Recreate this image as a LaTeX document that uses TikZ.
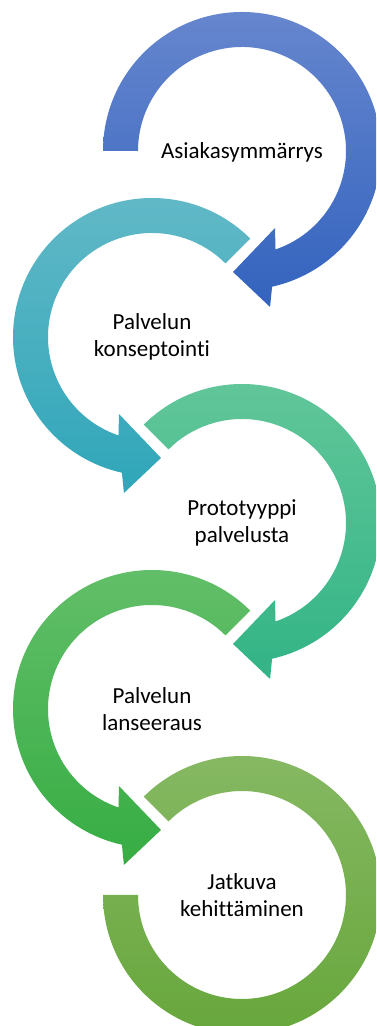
\documentclass[tikz,border=0pt]{standalone}
\usepackage{fontspec}
\setmainfont[Ligatures=NoCommon]{Carlito}
\definecolor{blueT}{HTML}{6686CE}
\definecolor{blueB}{HTML}{3363BE}
\definecolor{tealT}{HTML}{63B9C7}
\definecolor{tealB}{HTML}{2FA6B9}
\definecolor{mintT}{HTML}{63C79A}
\definecolor{mintB}{HTML}{32B486}
\definecolor{grnT}{HTML}{64BF6A}
\definecolor{grnB}{HTML}{36AD43}
\definecolor{oliveT}{HTML}{87B964}
\definecolor{oliveB}{HTML}{66A63A}
% ring on the right: starts at angle #3, runs clockwise, arrowhead points left at the bottom
\newcommand\ringRight[5]{%
  \begin{scope}[shift={(#1,#2)}]
    \shade[top color=#4,bottom color=#5]
      (#3:139) arc[start angle=#3,end angle=-77.5,radius=139]
      -- (-79.8:158.5) -- (-94.25:121.3) -- (-66.8:83.8) -- (-71.2:104)
      arc[start angle=-71.2,end angle=#3,radius=104] -- cycle;
  \end{scope}}
% ring on the left: starts at angle #3, runs counter-clockwise, arrowhead points right at the bottom
\newcommand\ringLeft[5]{%
  \begin{scope}[shift={(#1,#2)}]
    \shade[top color=#4,bottom color=#5]
      (#3:139) arc[start angle=#3,end angle=257.5,radius=139]
      -- (259.8:158.5) -- (274.25:121.3) -- (246.8:83.8) -- (251.2:104)
      arc[start angle=251.2,end angle=#3,radius=104] -- cycle;
  \end{scope}}
\begin{document}
\begin{tikzpicture}[x=1pt,y=1pt,
  lbl/.style={font=\fontsize{23}{27}\selectfont,align=center,text=black,inner sep=0pt}]
  \clip (0,0) rectangle (376,1026);
  \fill[white] (0,0) rectangle (376,1026);
  % five linked rings, top to bottom
  \ringRight{242}{875}{180}{blueT}{blueB}
  \ringLeft{152}{689}{45}{tealT}{tealB}
  \ringRight{242}{503}{135}{mintT}{mintB}
  \ringLeft{152}{317}{45}{grnT}{grnB}
  % last ring closes without an arrowhead
  \begin{scope}[shift={(242,131)}]
    \shade[top color=oliveT,bottom color=oliveB]
      (135:139) arc[start angle=135,end angle=-180,radius=139]
      -- (180:104) arc[start angle=-180,end angle=135,radius=104] -- cycle;
  \end{scope}
  % labels
  \node[lbl] (s1) at (242,874) {Asiakasymmärrys};
  \node[lbl] (s2) at (152,689) {Palvelun\\konseptointi};
  \node[lbl] (s3) at (242,503) {Prototyyppi\\palvelusta};
  \node[lbl] (s4) at (152,317) {Palvelun\\lanseeraus};
  \node[lbl] (s5) at (242,131) {Jatkuva\\kehittäminen};
\end{tikzpicture}
\end{document}
